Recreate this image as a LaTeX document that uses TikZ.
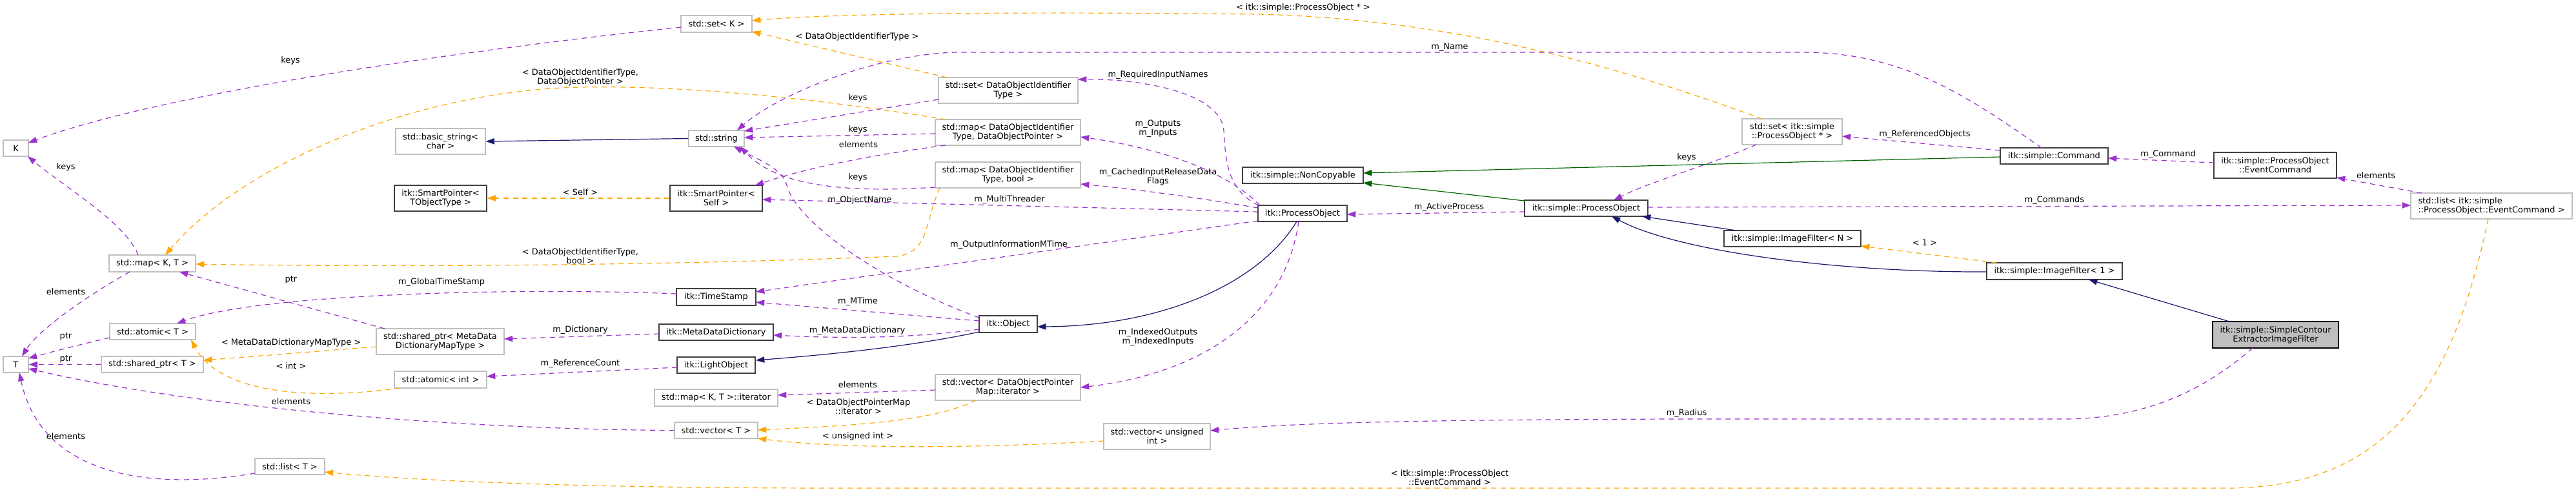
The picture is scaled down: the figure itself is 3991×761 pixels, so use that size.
\documentclass[tikz,border=0pt]{standalone}
\usepackage{fontspec}
\setmainfont{DejaVu Sans}
\usetikzlibrary{arrows.meta,calc}
\definecolor{purp}{HTML}{9A32CD}
\definecolor{orng}{HTML}{FFA500}
\definecolor{mblue}{HTML}{191970}
\definecolor{dgreen}{HTML}{006400}
\definecolor{gborder}{HTML}{BFBFBF}
\definecolor{gfill}{HTML}{BFBFBF}
\definecolor{nblack}{HTML}{404040}
\begin{document}
\begin{tikzpicture}[x=0.75pt,y=-0.75pt,
  font=\fontsize{9.7}{10.5}\selectfont,
  gbox/.style 2 args={draw=gborder, fill=white, line width=1pt, inner sep=0pt, align=center, minimum width={#1*0.75pt}, minimum height={#2*0.75pt}},
  bbox/.style 2 args={draw=nblack, fill=white, line width=1pt, inner sep=0pt, align=center, minimum width={#1*0.75pt}, minimum height={#2*0.75pt}},
  lbl/.style={inner sep=0pt, align=center},
  arrbase/.style={line width=0.9pt, -{Triangle[length=10pt,width=7pt]}},
  usearr/.style={arrbase, draw=purp, dash pattern=on 6pt off 5pt},
  tmplarr/.style={arrbase, draw=orng, dash pattern=on 6pt off 5pt},
  inharr/.style={arrbase, draw=mblue},
  protarr/.style={arrbase, draw=dgreen}
]
\fill[white] (0,0) rectangle (3991,761);
\useasboundingbox (0,0) rectangle (3991,761);

% ---------- nodes ----------
\node[gbox={39}{25}] (K) at (24.5,229.5) {K};
\node[gbox={39}{25}] (T) at (24.5,564.5) {T};
\node[gbox={134}{26}] (mapKT) at (236,408) {std::map< K, T >};
\node[gbox={133}{25}] (atomT) at (236.5,513.5) {std::atomic< T >};
\node[gbox={158}{25}] (shptrT) at (236,564.5) {std::shared\_ptr< T >};
\node[gbox={108}{25}] (listT) at (449,722.5) {std::list< T >};
\node[gbox={139}{40}] (basicstr) at (682.5,219) {std::basic\_string<\\char >};
\node[bbox={143}{40}] (spTObj) at (682.5,307) {itk::SmartPointer<\\TObjectType >};
\node[gbox={198}{40}] (shptrMD) at (682,529) {std::shared\_ptr< MetaData\\DictionaryMapType >};
\node[gbox={143}{26}] (atomInt) at (682.5,588) {std::atomic< int >};
\node[gbox={110}{26}] (setK) at (1110,37) {std::set< K >};
\node[gbox={86}{25}] (string) at (1110,214.5) {std::string};
\node[bbox={143}{40}] (spSelf) at (1109.5,307) {itk::SmartPointer<\\Self >};
\node[bbox={123}{26}] (TimeStamp) at (1109.5,460) {itk::TimeStamp};
\node[bbox={177}{25}] (MDD) at (1109.5,514.5) {itk::MetaDataDictionary};
\node[bbox={121}{25}] (LightObject) at (1109.5,565.5) {itk::LightObject};
\node[gbox={191}{26}] (mapIter) at (1109.5,616) {std::map< K, T >::iterator};
\node[gbox={129}{25}] (vecT) at (1109.5,666.5) {std::vector< T >};
\node[gbox={216}{40}] (setDOIT) at (1562,140) {std::set< DataObjectIdentifier\\Type >};
\node[gbox={225}{40}] (mapDOP) at (1561.5,205) {std::map< DataObjectIdentifier\\Type, DataObjectPointer >};
\node[gbox={225}{40}] (mapBool) at (1561.5,271) {std::map< DataObjectIdentifier\\Type, bool >};
\node[bbox={90}{26}] (Object) at (1562,502) {itk::Object};
\node[gbox={225}{40}] (vecDOPM) at (1561.5,600) {std::vector< DataObjectPointer\\Map::iterator >};
\node[gbox={165}{40}] (vecUI) at (1792.5,676) {std::vector< unsigned\\int >};
\node[bbox={187}{25}] (NonCopyable) at (2018.5,271.5) {itk::simple::NonCopyable};
\node[bbox={138}{25}] (ProcessObject) at (2018,330.5) {itk::ProcessObject};
\node[bbox={191}{25}] (sPO) at (2457.5,322.5) {itk::simple::ProcessObject};
\node[gbox={155}{40}] (setPO) at (2776.5,204) {std::set< itk::simple\\::ProcessObject * >};
\node[bbox={212}{25}] (IFN) at (2777,369.5) {itk::simple::ImageFilter< N >};
\node[bbox={167}{25}] (Command) at (3182.5,241.5) {itk::simple::Command};
\node[bbox={210}{26}] (IF1) at (3183,420) {itk::simple::ImageFilter< 1 >};
\node[bbox={190}{40}] (EvCmd) at (3525,256) {itk::simple::ProcessObject\\::EventCommand};
\node[bbox={195}{41}, draw=black, fill=gfill] (SCE) at (3525.5,518.5) {itk::simple::SimpleContour\\ExtractorImageFilter};
\node[gbox={250}{40}, align=left] (listEC) at (3860,319) {std::list< itk::simple\\::ProcessObject::EventCommand >};

% ---------- edges ----------
\draw[usearr] ($(setK)+(-55,5)$) .. controls (700,80) and (250,145) .. ($(K)+(19.5,-8.5)$);
\draw[usearr] ($(mapKT)+(-22,-13)$) .. controls (195,345) and (100,290) .. ($(K)+(18.5,12.5)$);
\draw[usearr] ($(mapKT)+(-35,13)$) .. controls (140,455) and (60,510) .. ($(T)+(9.5,-12.5)$);
\draw[usearr] ($(atomT)+(-66.5,9.5)$) .. controls (130,532) and (80,545) .. ($(T)+(19.5,-9.5)$);
\draw[usearr] (shptrT.west) -- (T.east);
\draw[usearr] (vecT.west) .. controls (700,665) and (300,630) .. ($(T)+(19.5,6.5)$);
\draw[usearr] ($(listT)+(-54,10.5)$) .. controls (200,765) and (60,720) .. ($(T)+(5.5,12.5)$);
\draw[usearr] ($(shptrMD)+(-86,-20)$) -- ($(mapKT)+(42,13)$);
\draw[tmplarr] ($(shptrMD)+(-99,8)$) -- ($(shptrT)+(79,-6.5)$);
\draw[tmplarr] ($(atomInt)+(-62.5,13)$) .. controls (480,620) and (340,610) .. ($(atomT)+(59.5,12.5)$);
\draw[usearr] ($(TimeStamp)+(-61.5,-5)$) .. controls (800,445) and (400,455) .. ($(atomT)+(37.5,-12.5)$);
\draw[tmplarr] ($(mapDOP)+(-96.5,-20)$) .. controls (1250,150) and (1050,132) .. (900,135) .. controls (650,140) and (380,250) .. ($(mapKT)+(20,-13)$);
\draw[tmplarr] ($(mapBool)+(-105.5,20)$) .. controls (1432,345) and (1440,390) .. (1390,397) .. controls (1000,412) and (600,414) .. ($(mapKT)+(67,1)$);
\draw[tmplarr] ($(setDOIT)+(-95,-20)$) -- ($(setK)+(55,12)$);
\draw[tmplarr] ($(setPO)+(-46.5,-20)$) .. controls (2500,100) and (2250,30) .. (1950,22) .. controls (1600,18) and (1300,20) .. ($(setK)+(55,-5)$);
\draw[usearr] ($(setDOIT)+(-108,14)$) -- ($(string)+(43,-11.5)$);
\draw[usearr] ($(mapDOP)+(-112.5,2)$) -- ($(string)+(43,-1.5)$);
\draw[usearr] ($(mapDOP)+(-96.5,20)$) .. controls (1350,240) and (1250,260) .. ($(spSelf)+(60.5,-20)$);
\draw[usearr] ($(mapBool)+(-112.5,19)$) .. controls (1300,300) and (1200,285) .. ($(string)+(37,12.5)$);
\draw[usearr] ($(Object)+(-45,-10)$) .. controls (1350,430) and (1235,340) .. (1220,290) .. controls (1212,260) and (1180,250) .. ($(string)+(27,12.5)$);
\draw[inharr] (string.west) -- (basicstr.east);
\draw[tmplarr] (spSelf.west) -- (spTObj.east);
\draw[usearr] ($(ProcessObject)+(-69,-2.5)$) -- ($(spSelf)+(71.5,2)$);
\draw[usearr] ($(ProcessObject)+(-68,-12.5)$) .. controls (1890,290) and (1900,220) .. (1895,195) .. controls (1880,140) and (1760,122) .. ($(setDOIT)+(108,-17)$);
\draw[usearr] ($(ProcessObject)+(-66,-12.5)$) .. controls (1900,265) and (1800,230) .. ($(mapDOP)+(112.5,7)$);
\draw[usearr] ($(ProcessObject)+(-69,-8.5)$) .. controls (1850,305) and (1750,292) .. ($(mapBool)+(112.5,14)$);
\draw[usearr] ($(ProcessObject)+(-69,11.5)$) -- ($(TimeStamp)+(61.5,-8)$);
\draw[usearr] ($(Object)+(-45,-5)$) -- ($(TimeStamp)+(61.5,8)$);
\draw[usearr] ($(Object)+(-45,8)$) .. controls (1400,525) and (1300,524) .. ($(MDD)+(88.5,4.5)$);
\draw[inharr] ($(Object)+(-45,12)$) .. controls (1420,535) and (1300,548) .. ($(LightObject)+(61.5,-7.5)$);
\draw[usearr] ($(MDD)+(-88.5,2.5)$) -- ($(shptrMD)+(99,-4)$);
\draw[usearr] ($(LightObject)+(-60.5,3.5)$) -- ($(atomInt)+(71.5,-5)$);
\draw[usearr] ($(vecDOPM)+(-112.5,4)$) -- ($(mapIter)+(95.5,-4)$);
\draw[tmplarr] ($(vecDOPM)+(-49.5,20)$) .. controls (1450,650) and (1350,658) .. ($(vecT)+(64.5,-0.5)$);
\draw[tmplarr] ($(vecUI)+(-82.5,7)$) .. controls (1500,695) and (1300,695) .. ($(vecT)+(64.5,12.5)$);
\draw[inharr] ($(ProcessObject)+(-9,12.5)$) .. controls (1950,440) and (1800,505) .. ($(Object)+(45,4)$);
\draw[usearr] ($(ProcessObject)+(-6,12.5)$) .. controls (1990,500) and (1850,580) .. ($(vecDOPM)+(112.5,0)$);
\draw[protarr] ($(sPO)+(-95.5,-11.5)$) -- ($(NonCopyable)+(93.5,11.5)$);
\draw[protarr] ($(Command)+(-83.5,1.5)$) -- ($(NonCopyable)+(93.5,-3.5)$);
\draw[usearr] ($(sPO)+(-95.5,5.5)$) -- ($(ProcessObject)+(69,1.5)$);
\draw[usearr] ($(sPO)+(95.5,-1.5)$) -- ($(listEC)+(-125,-1)$);
\draw[usearr] ($(setPO)+(-55.5,20)$) .. controls (2650,255) and (2560,280) .. ($(sPO)+(42.5,-12.5)$);
\draw[usearr] ($(Command)+(-83.5,-8.5)$) -- ($(setPO)+(77.5,7)$);
\draw[usearr] ($(EvCmd)+(-95,-4)$) -- ($(Command)+(83.5,3.5)$);
\draw[usearr] ($(listEC)+(-108,-20)$) -- ($(EvCmd)+(95,19)$);
\draw[tmplarr] ($(listEC)+(-5,20)$) .. controls (3800,600) and (3700,756) .. (3450,756) -- (1300,756) .. controls (900,756) and (650,745) .. ($(listT)+(54,8.5)$);
\draw[inharr] ($(IFN)+(-87,-12.5)$) -- ($(sPO)+(86.5,12.5)$);
\draw[inharr] ($(IF1)+(-105,1)$) .. controls (2850,422) and (2600,390) .. ($(sPO)+(39.5,12.5)$);
\draw[tmplarr] ($(IF1)+(-90,-13)$) -- ($(IFN)+(106,11.5)$);
\draw[inharr] ($(SCE)+(-71.5,-20.5)$) -- ($(IF1)+(53,13)$);
\draw[usearr] ($(SCE)+(-35.5,20.5)$) .. controls (3420,600) and (3330,648) .. (3200,649) -- (2600,649) .. controls (2200,650) and (2000,655) .. ($(vecUI)+(82.5,-9)$);
\draw[usearr] ($(Command)+(-19.5,-12.5)$) .. controls (3050,150) and (2950,82) .. (2796,81) -- (1480,81) .. controls (1350,85) and (1200,150) .. ($(string)+(32,-12.5)$);

% ---------- labels ----------
\node[lbl] (l1) at (450,94) {keys};
\node[lbl] (l2) at (102,259) {keys};
\node[lbl] (l3) at (102,452) {elements};
\node[lbl] (l4) at (102,521) {ptr};
\node[lbl] (l5) at (102,556) {ptr};
\node[lbl] (l6) at (102,676) {elements};
\node[lbl] (l7) at (451,622) {elements};
\node[lbl] (l8) at (451,433) {ptr};
\node[lbl] (l9) at (451,531) {< MetaDataDictionaryMapType >};
\node[lbl] (l10) at (451,567) {< int >};
\node[lbl] (l11) at (684,437) {m\_GlobalTimeStamp};
\node[lbl] (l12) at (899,120) {< DataObjectIdentifierType,\\DataObjectPointer >};
\node[lbl] (l13) at (899,397) {< DataObjectIdentifierType,\\bool >};
\node[lbl] (l14) at (899,298) {< Self >};
\node[lbl] (l15) at (899,511) {m\_Dictionary};
\node[lbl] (l16) at (899,563) {m\_ReferenceCount};
\node[lbl] (l17) at (1328,57) {< DataObjectIdentifierType >};
\node[lbl] (l18) at (2019,12) {< itk::simple::ProcessObject * >};
\node[lbl] (l19) at (1329,152) {keys};
\node[lbl] (l20) at (1329,201) {keys};
\node[lbl] (l21) at (1330,224) {elements};
\node[lbl] (l22) at (1329,275) {keys};
\node[lbl] (l23) at (1332,310) {m\_ObjectName};
\node[lbl] (l24) at (1564,309) {m\_MultiThreader};
\node[lbl] (l25) at (1563,379) {m\_OutputInformationMTime};
\node[lbl] (l26) at (1794,116) {m\_RequiredInputNames};
\node[lbl] (l27) at (1794,199) {m\_Outputs\\m\_Inputs};
\node[lbl] (l28) at (1794,274) {m\_CachedInputReleaseData\\Flags};
\node[lbl] (l29) at (1329,467) {m\_MTime};
\node[lbl] (l30) at (1328,512) {m\_MetaDataDictionary};
\node[lbl] (l31) at (1329,596) {elements};
\node[lbl] (l32) at (1330,630) {< DataObjectPointerMap\\::iterator >};
\node[lbl] (l33) at (1329,676) {< unsigned int >};
\node[lbl] (l34) at (1794,522) {m\_IndexedOutputs\\m\_IndexedInputs};
\node[lbl] (l35) at (2246,73) {m\_Name};
\node[lbl] (l36) at (2245,321) {m\_ActiveProcess};
\node[lbl] (l37) at (2613,244) {keys};
\node[lbl] (l38) at (2613,640) {m\_Radius};
\node[lbl] (l39) at (2246,740) {< itk::simple::ProcessObject\\::EventCommand >};
\node[lbl] (l40) at (2982,208) {m\_ReferencedObjects};
\node[lbl] (l41) at (3183,310) {m\_Commands};
\node[lbl] (l42) at (2982,376) {< 1 >};
\node[lbl] (l43) at (3359,239) {m\_Command};
\node[lbl] (l44) at (3681,272) {elements};
\end{tikzpicture}
\end{document}
